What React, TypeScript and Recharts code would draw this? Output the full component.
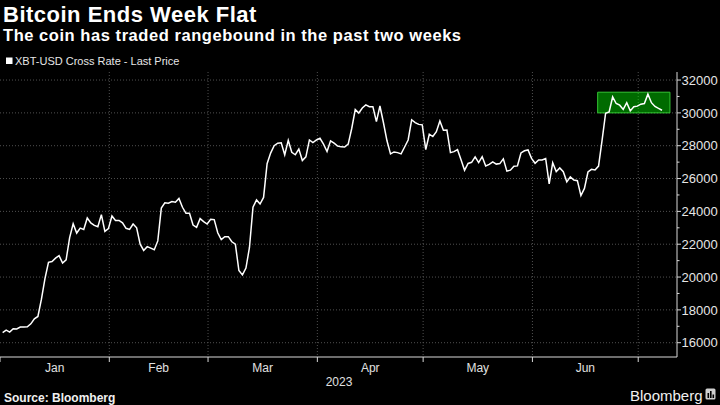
import React from 'react';
import {
  LineChart,
  Line,
  XAxis,
  YAxis,
  CartesianGrid,
  ReferenceArea,
} from 'recharts';

// XBT-USD daily last price, 2023
const jan = [
  16620, 16770, 16650, 16850, 16840, 16950, 16950, 16970, 17150, 17450, 17600,
  18650, 19900, 20900, 20950, 21150, 21300, 20850, 21050, 22400, 23250, 22680,
  22980, 22900, 23600, 23300, 23150, 23060, 23800, 22780, 22950,
];
const feb = [
  23720, 23450, 23450, 23300, 22970, 22900, 23230, 23000, 22000, 21620, 21850,
  21760, 21660, 22200, 24200, 24520, 24500, 24600, 24560, 24790, 24250, 23880,
  23880, 23170, 23030, 23560, 23380, 23230,
];
const mar = [
  23520, 23500, 22700, 22280, 22460, 22460, 22150, 22000, 20400, 20130, 20550,
  21800, 24250, 24700, 24450, 24850, 26900, 27550, 28000, 28150, 28180, 27450,
  28330, 27600, 27450, 27800, 27100, 27320, 28350, 28190, 28350,
];
const apr = [
  28450, 28100, 27650, 28300, 28160, 27980, 27930, 27920, 28100, 29050, 30200,
  29990, 30300, 30490, 30380, 30380, 29470, 30420, 29400, 28300, 27500, 27620,
  27580, 27500, 27920, 28350, 29580, 29410, 29300, 29270,
];
const may = [
  27760, 28700, 28560, 28850, 29500, 28940, 28950, 27580, 27640, 27760, 27150,
  26500, 26920, 26990, 27320, 26970, 27330, 26770, 26860, 27020, 26880, 26910,
  27200, 26450, 26510, 26750, 26770, 27560, 27690, 27740, 27230,
];
const jun = [
  26930, 27130, 27130, 27220, 25680, 26960, 26420, 26650, 26420, 25800, 26100,
  25910, 25870, 24960, 25400, 26400, 26560, 26520, 26760, 28330, 29980, 30060,
  30970, 30570, 30470, 30210, 30620, 30120, 30370, 30410,
];
const jul = [30530, 30570, 31140, 30620, 30390, 30270, 30160];

const monthNames = ['Jan', 'Feb', 'Mar', 'Apr', 'May', 'Jun'];
const yTicks = [
  16000, 17000, 18000, 19000, 20000, 21000, 22000, 23000, 24000, 25000, 26000,
  27000, 28000, 29000, 30000, 31000, 32000,
];
const yMajor = yTicks.filter((v) => v % 2000 === 0);

// the green "rangebound" box (days since Jan 1, price)
const boxDays = [169.5, 190];
const boxPrices = [30000, 31260];

// the close is stamped late in the day
const CLOSE_OFFSET = 0.75;

const months = [jan, feb, mar, apr, may, jun, jul];
const data: { x: number; price: number }[] = [];
const monthStarts: number[] = [];
const monthMids: number[] = [];
let day = 0;
months.forEach((m, i) => {
  monthStarts.push(day);
  if (i < monthNames.length) monthMids.push(day + m.length / 2);
  m.forEach((v) => {
    data.push({ x: day + CLOSE_OFFSET, price: v });
    day += 1;
  });
});
// Jan 1 .. Jul 1 boundaries
const boundaries = monthStarts.slice(0, 7);
const midLabel: Record<number, string> = {};
monthMids.forEach((m, i) => (midLabel[m] = monthNames[i]));

const FONT = '"Liberation Sans", Arial, sans-serif';
const AXIS = '#d9d9d9';

function PriceTick(props: any) {
  const { x, y, payload } = props;
  const major = payload.value % 2000 === 0;
  return (
    <g>
      <line x1={x} x2={x + (major ? 4 : 2.5)} y1={y} y2={y} stroke={AXIS} strokeWidth={1} />
      {major && (
        <text x={x + 4.5} y={y} dy="0.36em" fill="#e6e6e6" fontSize={13} fontFamily={FONT}>
          {payload.value}
        </text>
      )}
    </g>
  );
}

export default function App() {
  return (
    <div
      style={{
        position: 'absolute',
        left: 0,
        top: 0,
        width: 720,
        height: 405,
        background: '#000',
        overflow: 'hidden',
      }}
    >
      <LineChart
        width={720}
        height={405}
        data={data}
        margin={{ top: 72, right: 0, left: 0, bottom: 22 }}
      >
        <CartesianGrid
          xAxisId="bound"
          stroke="#505050"
          strokeDasharray="1 2"
          horizontalValues={yMajor}
          verticalValues={boundaries.slice(1)}
        />
        <XAxis
          xAxisId="bound"
          dataKey="x"
          type="number"
          domain={[0, 192]}
          ticks={boundaries}
          tickFormatter={() => ''}
          tickSize={5}
          height={6}
          stroke={AXIS}
          tickLine={{ stroke: AXIS }}
          axisLine={{ stroke: AXIS }}
        />
        <XAxis
          xAxisId="lbl"
          dataKey="x"
          type="number"
          domain={[0, 192]}
          ticks={monthMids}
          tickFormatter={(v) => midLabel[v] ?? ''}
          axisLine={false}
          tickLine={false}
          tickSize={0}
          tickMargin={0}
          height={20}
          tick={{ fill: '#e0e0e0', fontSize: 12, fontFamily: FONT }}
          interval={0}
        />
        <YAxis
          orientation="right"
          domain={[15130, 32490]}
          ticks={yTicks}
          interval={0}
          width={43}
          tickLine={false}
          tickSize={0}
          tickMargin={0}
          axisLine={{ stroke: AXIS }}
          tick={<PriceTick />}
        />
        <Line
          xAxisId="bound"
          type="linear"
          dataKey="price"
          stroke="#ffffff"
          strokeWidth={1.5}
          dot={false}
          isAnimationActive={false}
        />
        <ReferenceArea
          xAxisId="bound"
          x1={boxDays[0]}
          x2={boxDays[1]}
          y1={boxPrices[0]}
          y2={boxPrices[1]}
          fill="#00ff00"
          fillOpacity={0.42}
          stroke="#33c433"
          strokeWidth={1}
          ifOverflow="visible"
        />
      </LineChart>
      <svg
        width={720}
        height={405}
        style={{ position: 'absolute', left: 0, top: 0, pointerEvents: 'none' }}
      >
        <text
          x={3}
          y={21.5}
          fill="#fff"
          fontSize={22}
          letterSpacing={0.5}
          fontWeight="bold"
          fontFamily={FONT}
        >
          Bitcoin Ends Week Flat
        </text>
        <text
          x={3}
          y={41}
          fill="#fff"
          fontSize={16.5}
          letterSpacing={0.55}
          fontWeight="bold"
          fontFamily={FONT}
        >
          The coin has traded rangebound in the past two weeks
        </text>
        <rect x={6} y={57.5} width={6.5} height={6.5} fill="#fff" />
        <text x={15} y={65} fill="#e6e6e6" fontSize={11} fontFamily={FONT}>
          XBT-USD Cross Rate - Last Price
        </text>
        <text x={339} y={385.5} fill="#e0e0e0" fontSize={12} textAnchor="middle" fontFamily={FONT}>
          2023
        </text>
        <text x={4} y={401.5} fill="#f0f0f0" fontSize={12} fontWeight="bold" fontFamily={FONT}>
          Source: Bloomberg
        </text>
        <text x={630} y={400.5} fill="#f0f0f0" fontSize={15} fontFamily={FONT}>
          Bloomberg
        </text>
        <rect x={705.5} y={388.5} width={10} height={11} rx={1.5} fill="#d0d0d0" />
        <rect x={707.5} y={393} width={1.6} height={5} fill="#000" />
        <rect x={710} y={391} width={1.6} height={7} fill="#000" />
        <rect x={712.5} y={394.5} width={1.6} height={3.5} fill="#000" />
      </svg>
    </div>
  );
}
